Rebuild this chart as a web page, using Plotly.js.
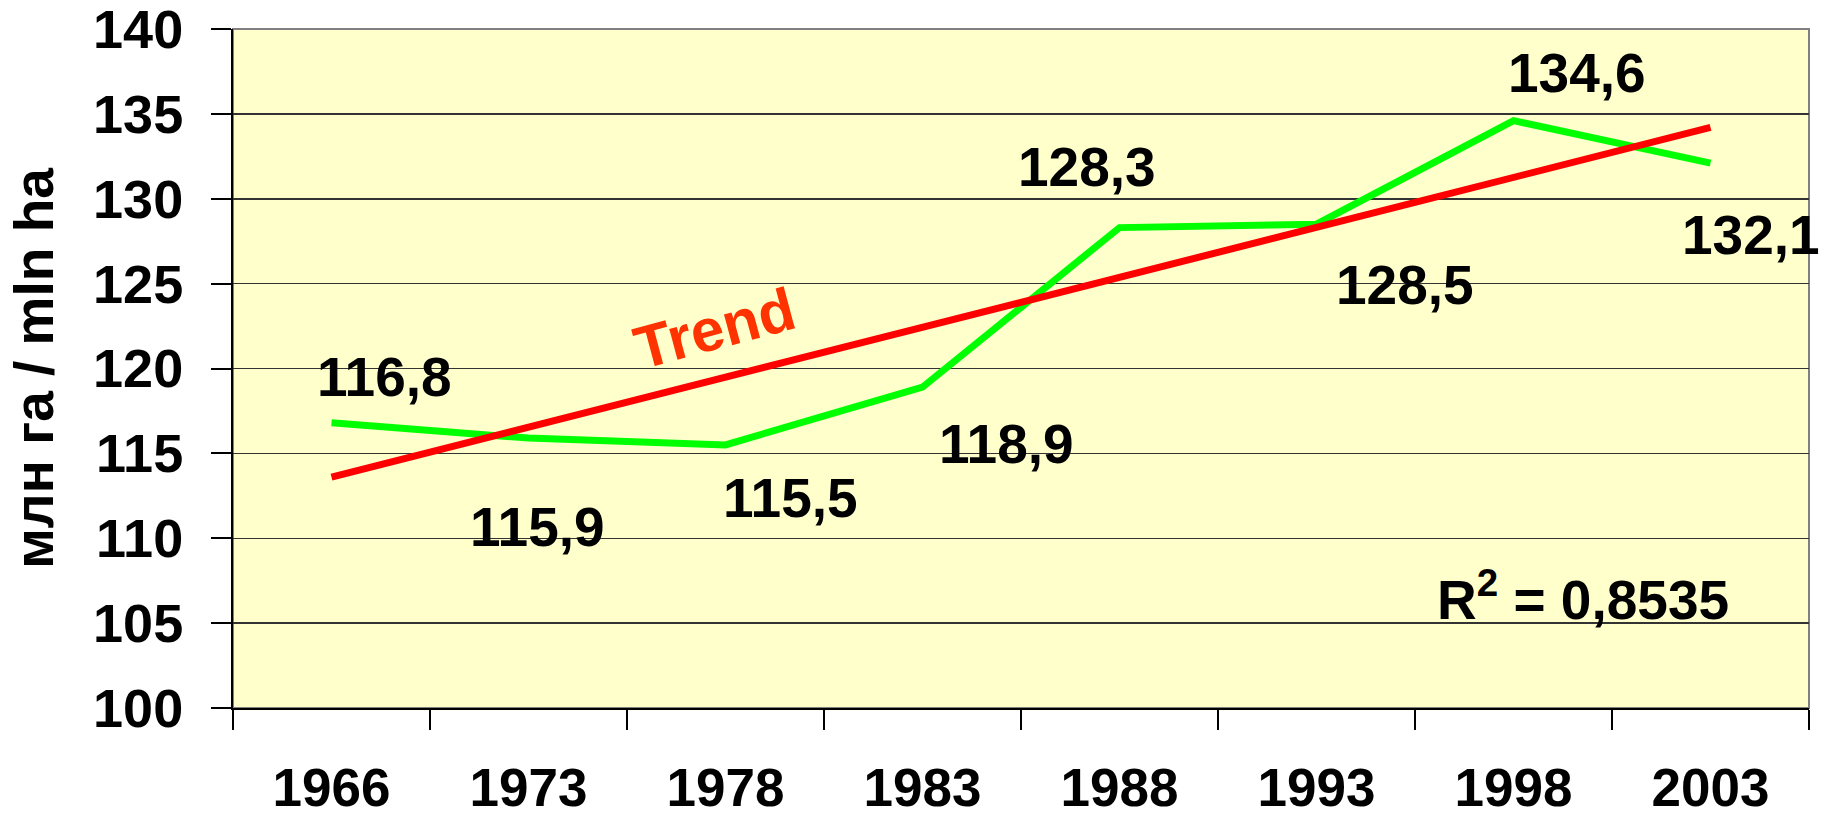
<!DOCTYPE html>
<html>
<head>
<meta charset="utf-8">
<script src="https://cdn.plot.ly/plotly-3.0.1.min.js"></script>
<style>
  html, body { margin: 0; padding: 0; background: #ffffff; }
  #chart { width: 1824px; height: 820px; }
</style>
</head>
<body>
<div id="chart"></div>
<script>
// ---- data ----
const years = ['1966', '1973', '1978', '1983', '1988', '1993', '1998', '2003'];
const areaValues = [116.8, 115.9, 115.5, 118.9, 128.3, 128.5, 134.6, 132.1];
const trendYears = ['1966', '2003'];
const trendValues = [113.6, 134.2];
const rSquaredText = 'R<sup>2</sup> = 0,8535';
const trendLabel = 'Trend';
const yTitle = 'млн га / mln ha';
const yTickValues = [100, 105, 110, 115, 120, 125, 130, 135, 140];

// label placement offsets in pixels (style, not data)
const labelDx = [53, 9, 65, 84, -33, 88, 63, 40];
const labelDy = [46, -89, -53, -57, 61, -61, 48, -72];

const FONT = 'Liberation Sans, Arial, Helvetica, sans-serif';

const traces = [
  {
    type: 'scatter', mode: 'lines', x: years, y: areaValues,
    line: { color: '#00ff00', width: 7 }, hoverinfo: 'skip', showlegend: false
  },
  {
    type: 'scatter', mode: 'lines', x: trendYears, y: trendValues,
    line: { color: '#ff0000', width: 7 }, hoverinfo: 'skip', showlegend: false
  }
];

// category axis: annotation x is the category's serial number
const annotations = years.map((yr, i) => ({
  x: years.indexOf(yr), y: areaValues[i], xref: 'x', yref: 'y',
  text: String(areaValues[i]).replace('.', ','),
  showarrow: false, xshift: labelDx[i], yshift: labelDy[i],
  xanchor: 'center', yanchor: 'middle',
  font: { family: FONT, size: 55, color: '#000000', weight: 'bold' }
}));

annotations.push({
  xref: 'paper', yref: 'paper', x: 0.8566, y: 0.165,
  text: rSquaredText, showarrow: false, xanchor: 'center', yanchor: 'middle',
  font: { family: FONT, size: 55, color: '#000000', weight: 'bold' }
});

annotations.push({
  xref: 'paper', yref: 'paper', x: 0.3058, y: 0.5596,
  text: trendLabel, showarrow: false, xanchor: 'center', yanchor: 'middle',
  textangle: -15,
  font: { family: FONT, size: 60, color: '#ff3300', weight: 'bold' }
});

const layout = {
  width: 1824, height: 820,
  margin: { l: 233, r: 15, t: 29, b: 112, pad: 0 },
  paper_bgcolor: '#ffffff',
  plot_bgcolor: '#ffffcc',
  showlegend: false,
  font: { family: FONT, color: '#000000' },
  xaxis: {
    type: 'category', categoryorder: 'array', categoryarray: years,
    range: [-0.5, years.length - 0.5], autorange: false,
    tickson: 'boundaries', ticks: 'outside', ticklen: 20, tickwidth: 2, tickcolor: '#000000',
    showgrid: false, zeroline: false,
    showline: true, linecolor: '#000000', linewidth: 2,
    tickfont: { family: FONT, size: 53, color: '#000000', weight: 'bold' },
    tickangle: 0,
    ticklabelstandoff: 32,
    ticklabeloverflow: 'allow',
    fixedrange: true
  },
  yaxis: {
    range: [100, 140], autorange: false, tickvals: yTickValues, ticktext: yTickValues.map(String),
    ticks: 'outside', ticklen: 20, tickwidth: 2, tickcolor: '#000000',
    showgrid: true, gridcolor: '#333333', gridwidth: 1.5,
    zeroline: false, showline: true, linecolor: '#000000', linewidth: 2,
    tickfont: { family: FONT, size: 54, color: '#000000', weight: 'bold' },
    ticklabelstandoff: 17,
    ticklabeloverflow: 'allow',
    title: { text: yTitle, font: { family: FONT, size: 55, color: '#000000', weight: 'bold' }, standoff: 22 },
    fixedrange: true
  },
  shapes: [
    {
      type: 'rect', xref: 'paper', yref: 'paper', x0: 0, x1: 1, y0: 0, y1: 1,
      line: { color: '#808080', width: 2 }, fillcolor: 'rgba(0,0,0,0)', layer: 'below'
    }
  ],
  annotations: annotations
};

Plotly.newPlot('chart', traces, layout, { displayModeBar: false, staticPlot: true });
</script>
</body>
</html>
